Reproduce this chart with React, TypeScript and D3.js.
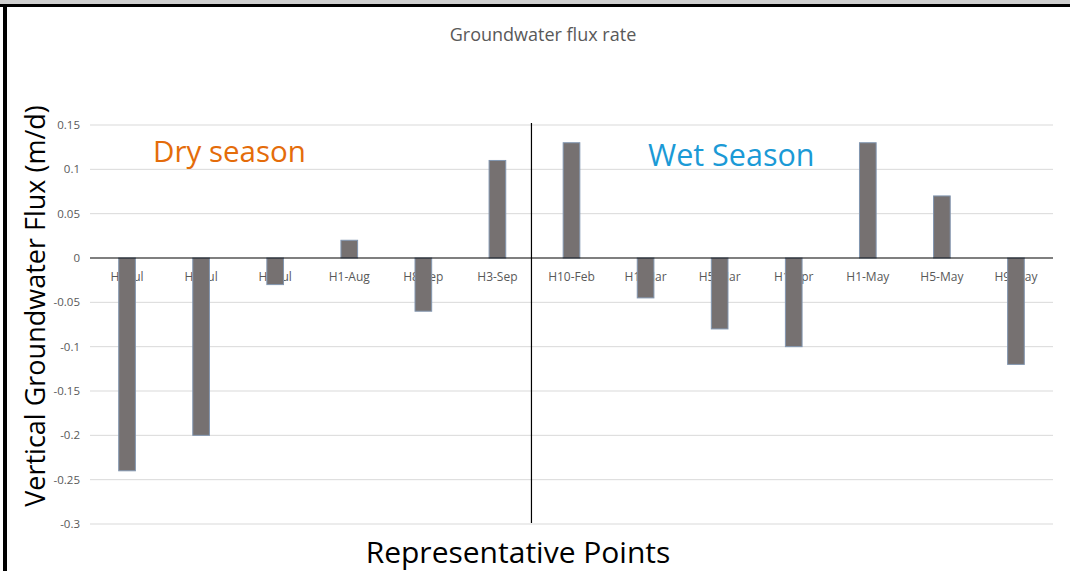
import React from 'react';
import * as d3 from 'd3';

const categories = ['H1-Jul', 'H2-Jul', 'H3-Jul', 'H1-Aug', 'H8-Sep', 'H3-Sep', 'H10-Feb', 'H1-Mar', 'H5-Mar', 'H1-Apr', 'H1-May', 'H5-May', 'H9-May'];
const flux = [-0.24, -0.2, -0.03, 0.02, -0.06, 0.11, 0.13, -0.045, -0.08, -0.1, 0.13, 0.07, -0.12];
const yTicks = [0.15, 0.1, 0.05, 0, -0.05, -0.1, -0.15, -0.2, -0.25, -0.3];
const seasonSplit = 'H10-Feb';

const W = 1070;
const H = 571;
const left = 90;
const right = 1053;
const top = 125;
const bottom = 524;
const font = '"Open Sans", sans-serif';

const App = () => {
    const x = d3.scaleBand().domain(categories).range([left, right]).padding(0);
    const y = d3.scaleLinear().domain([-0.3, 0.15]).range([bottom, top]);
    const barW = x.bandwidth() * 0.225;
    const splitX = (x(seasonSplit) as number) - 3;

    return (
        <svg width={W} height={H} style={{ position: 'absolute', left: 0, top: 0, background: '#fff' }}>
            <rect x={0} y={0} width={W} height={4} fill="#cfcfcf" />
            <rect x={0} y={4} width={W} height={3} fill="#000" />
            <rect x={3} y={4} width={4} height={H} fill="#000" />

            <text x={543} y={41} textAnchor="middle" fontFamily={font} fontSize={18} fill="#595959">
                Groundwater flux rate
            </text>

            {yTicks.map(t => (
                <g key={t}>
                    {t !== 0 && <line x1={left} x2={right} y1={y(t)} y2={y(t)} stroke="#d9d9d9" strokeWidth={1} />}
                    <text x={80} y={y(t) + 4} textAnchor="end" fontFamily={font} fontSize={11.5} fill="#595959">
                        {String(t)}
                    </text>
                </g>
            ))}

            {categories.map(c => (
                <text key={c} x={(x(c) as number) + x.bandwidth() / 2} y={281} textAnchor="middle"
                    fontFamily={font} fontSize={12} fill="#595959">
                    {c}
                </text>
            ))}

            {categories.map((c, i) => (
                <rect key={c}
                    x={(x(c) as number) + x.bandwidth() / 2 - barW / 2}
                    y={y(Math.max(0, flux[i]))}
                    width={barW}
                    height={Math.abs(y(flux[i]) - y(0))}
                    fill="#767171" stroke="#8296b0" strokeWidth={1} />
            ))}

            <line x1={left} x2={right} y1={y(0)} y2={y(0)} stroke="#000" strokeWidth={1.2} />
            <line x1={splitX} x2={splitX} y1={123} y2={523} stroke="#000" strokeWidth={1.2} />

            <text x={153} y={162} fontFamily={font} fontSize={29.5} fill="#e46c0a">Dry season</text>
            <text x={648} y={166} fontFamily={font} fontSize={30.5} fill="#1b9ad6">Wet Season</text>

            <text transform="translate(45,306) rotate(-90)" textAnchor="middle" fontFamily={font} fontSize={27} fill="#000">
                Vertical Groundwater Flux (m/d)
            </text>
            <text x={518} y={563} textAnchor="middle" fontFamily={font} fontSize={30} fill="#000">
                Representative Points
            </text>
        </svg>
    );
};

export default App;
